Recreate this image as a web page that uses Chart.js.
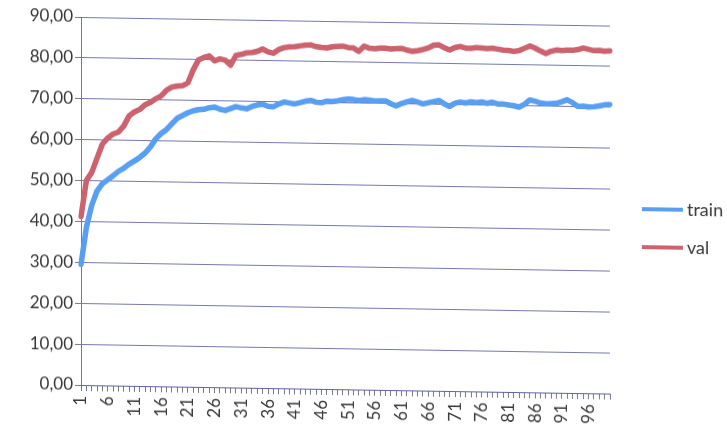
<!DOCTYPE html>
<html>
<head>
<meta charset="utf-8">
<script src="https://cdn.jsdelivr.net/npm/chart.js@4/dist/chart.umd.min.js"></script>
<style>
  html, body { margin: 0; padding: 0; background: #ffffff; overflow: hidden; }
  #wrap { width: 727px; height: 434px; transform: skewY(0.93deg); transform-origin: 81px 0; }
  canvas { display: block; }
</style>
</head>
<body>
<div id="wrap"><canvas id="c" width="727" height="434"></canvas></div>
<script>
// Epochs 1..100
const categories = [
  '1','2','3','4','5','6','7','8','9','10','11','12','13','14','15','16','17','18','19','20',
  '21','22','23','24','25','26','27','28','29','30','31','32','33','34','35','36','37','38','39','40',
  '41','42','43','44','45','46','47','48','49','50','51','52','53','54','55','56','57','58','59','60',
  '61','62','63','64','65','66','67','68','69','70','71','72','73','74','75','76','77','78','79','80',
  '81','82','83','84','85','86','87','88','89','90','91','92','93','94','95','96','97','98','99','100'
];

// Category labels that are printed under the axis
const xTickLabels = ['1','6','11','16','21','26','31','36','41','46','51','56','61','66','71','76','81','86','91','96'];

// Value axis ticks
const yTicks = [0, 10, 20, 30, 40, 50, 60, 70, 80, 90];

// Training accuracy per epoch
const train = [
  29.5, 38.5, 44.0, 47.5, 49.3, 50.3, 51.3, 52.4, 53.2, 54.2,
  55.0, 55.9, 57.0, 58.5, 60.5, 61.8, 62.8, 64.2, 65.6, 66.3,
  67.0, 67.5, 67.8, 67.9, 68.3, 68.5, 68.0, 67.7, 68.2, 68.7,
  68.4, 68.2, 68.8, 69.2, 69.4, 68.9, 68.8, 69.5, 70.0, 69.8,
  69.6, 69.9, 70.3, 70.5, 70.1, 70.0, 70.4, 70.3, 70.5, 70.8,
  71.0, 70.9, 70.7, 70.9, 70.8, 70.6, 70.7, 70.7, 70.0, 69.5,
  70.1, 70.5, 70.9, 70.5, 70.1, 70.4, 70.7, 71.0, 70.2, 69.6,
  70.4, 70.7, 70.5, 70.8, 70.6, 70.8, 70.5, 70.8, 70.4, 70.4,
  70.2, 70.0, 69.7, 70.4, 71.5, 71.2, 70.8, 70.6, 70.7, 70.8,
  71.2, 71.7, 71.0, 70.1, 70.2, 70.0, 70.1, 70.3, 70.6, 70.7
];

// Validation accuracy per epoch
const val = [
  41.2, 50.0, 52.0, 55.5, 59.0, 60.5, 61.5, 62.0, 63.5, 66.0,
  67.0, 67.6, 68.8, 69.4, 70.3, 71.0, 72.4, 73.2, 73.5, 73.6,
  74.3, 77.5, 80.0, 80.6, 81.0, 79.8, 80.3, 80.0, 78.8, 81.2,
  81.5, 81.9, 82.0, 82.3, 82.9, 82.2, 81.9, 82.8, 83.3, 83.5,
  83.6, 83.8, 84.0, 84.1, 83.7, 83.5, 83.4, 83.7, 83.8, 83.9,
  83.6, 83.5, 82.7, 84.0, 83.5, 83.4, 83.6, 83.6, 83.4, 83.5,
  83.6, 83.2, 82.9, 83.1, 83.4, 83.8, 84.5, 84.6, 83.9, 83.4,
  84.0, 84.3, 83.9, 83.9, 84.1, 84.0, 83.9, 84.0, 83.8, 83.6,
  83.5, 83.3, 83.5, 84.1, 84.7, 84.2, 83.5, 82.9, 83.5, 83.8,
  83.7, 83.8, 83.8, 84.0, 84.4, 84.1, 83.8, 83.9, 83.7, 83.8
];

const TEXT = '#363636';
const GRID = 'rgba(92,98,160,0.85)';
const AXIS = 'rgba(105,105,120,0.9)';
const FONT = 'Lato, "Open Sans", sans-serif';

// Legend drawn to the right of the plot, lines with labels
const sideLegend = {
  id: 'sideLegend',
  afterDraw(chart) {
    const ctx = chart.ctx;
    const area = chart.chartArea;
    ctx.save();
    ctx.font = '18px ' + FONT;
    ctx.textBaseline = 'middle';
    ctx.textAlign = 'left';
    chart.data.datasets.forEach((ds, i) => {
      const y = area.top + 183 + i * 38;
      const x0 = area.right + 32;
      ctx.strokeStyle = ds.borderColor;
      ctx.lineWidth = 4;
      ctx.beginPath();
      ctx.moveTo(x0, y);
      ctx.lineTo(x0 + 41, y);
      ctx.stroke();
      ctx.fillStyle = TEXT;
      ctx.fillText(ds.label, x0 + 45, y);
    });
    ctx.restore();
  }
};

new Chart(document.getElementById('c'), {
  type: 'line',
  data: {
    labels: categories,
    datasets: [
      {
        label: 'train',
        data: train,
        borderColor: 'rgb(88,158,242)',
        backgroundColor: 'rgb(88,158,242)',
        borderWidth: 5.5,
        pointRadius: 0,
        tension: 0,
        borderJoinStyle: 'round',
        borderCapStyle: 'round'
      },
      {
        label: 'val',
        data: val,
        borderColor: 'rgb(203,98,110)',
        backgroundColor: 'rgb(203,98,110)',
        borderWidth: 5.5,
        pointRadius: 0,
        tension: 0,
        borderJoinStyle: 'round',
        borderCapStyle: 'round'
      }
    ]
  },
  options: {
    responsive: false,
    animation: false,
    devicePixelRatio: 1,
    layout: { padding: { top: 17, right: 117, bottom: 0, left: 0 } },
    plugins: {
      legend: { display: false },
      tooltip: { enabled: false }
    },
    scales: {
      x: {
        type: 'category',
        offset: false,
        afterFit(scale) { scale.height = 49; },
        grid: {
          display: true,
          drawOnChartArea: false,
          drawTicks: true,
          tickLength: 6,
          offset: false,
          color: AXIS,
          lineWidth: 1
        },
        border: { display: true, color: GRID, width: 1 },
        ticks: {
          autoSkip: false,
          minRotation: 90,
          maxRotation: 90,
          padding: 5,
          color: TEXT,
          font: { family: FONT, size: 17 },
          callback(value, index) {
            const lab = categories[index];
            return xTickLabels.includes(lab) ? lab : '';
          }
        }
      },
      y: {
        min: yTicks[0],
        max: yTicks[yTicks.length - 1],
        afterFit(scale) { scale.width = 81; },
        afterBuildTicks(scale) { scale.ticks = yTicks.map(v => ({ value: v })); },
        grid: {
          color: GRID,
          lineWidth: 1,
          drawTicks: true,
          tickLength: 6,
          tickColor: AXIS
        },
        border: { display: true, color: AXIS, width: 1 },
        ticks: {
          padding: 2,
          color: TEXT,
          font: { family: FONT, size: 17 },
          callback(value) { return value.toFixed(2).replace('.', ','); }
        }
      }
    }
  },
  plugins: [sideLegend]
});
</script>
</body>
</html>
